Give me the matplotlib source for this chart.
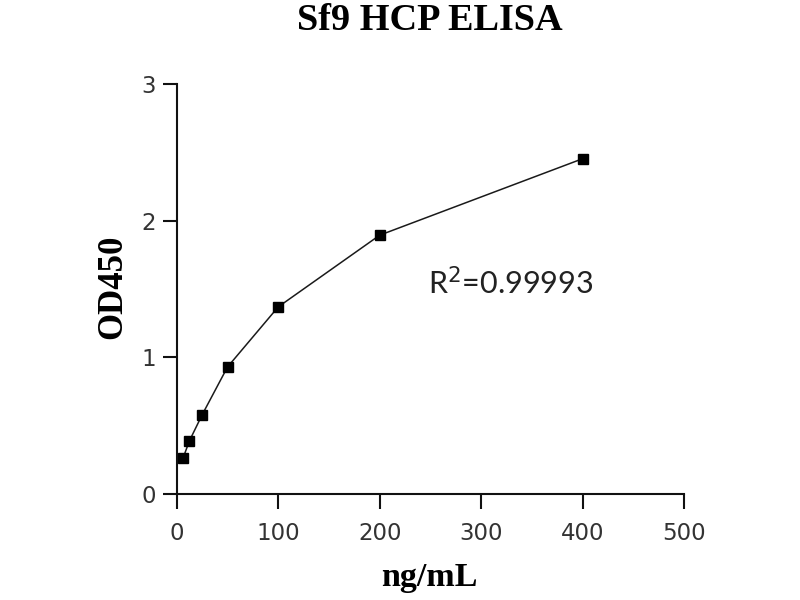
import matplotlib
matplotlib.use("Agg")
import matplotlib.pyplot as plt

conc = [6.25, 12.5, 25, 50, 100, 200, 400]
od450 = [0.265, 0.39, 0.58, 0.93, 1.37, 1.895, 2.455]
xticks = [0, 100, 200, 300, 400, 500]
yticks = [0, 1, 2, 3]
title = "Sf9 HCP ELISA"
xlabel = "ng/mL"
ylabel = "OD450"
r2_text = "R$^2$=0.99993"

fig = plt.figure(figsize=(8, 6), dpi=100)
ax = fig.add_axes([0.221, 0.1767, 0.634, 0.6828])
ax.plot(conc, od450, color="#1a1a1a", lw=1.1, marker="s", ms=7, mfc="black", mec="black")
ax.set_xlim(0, 500)
ax.set_ylim(0, 3)
ax.set_xticks(xticks)
ax.set_yticks(yticks)
for s in ["top", "right"]:
    ax.spines[s].set_visible(False)
for s in ["left", "bottom"]:
    ax.spines[s].set_linewidth(1.5)
    ax.spines[s].set_color("#111111")
ax.tick_params(axis="x", length=11, width=1.5, labelsize=16.5, pad=9, colors="#111111", labelcolor="#333333")
ax.tick_params(axis="y", length=10, width=1.5, labelsize=16.5, pad=5, colors="#111111", labelcolor="#333333")
for lab in ax.get_xticklabels() + ax.get_yticklabels():
    lab.set_family("DejaVu Sans")

serif = ["Liberation Serif", "DejaVu Serif"]
fig.text(0.537, 0.965, title, ha="center", va="center", fontsize=27.5, fontweight="bold", family=serif)
fig.text(0.537, 0.037, xlabel, ha="center", va="center", fontsize=24.5, fontweight="bold", family=serif)
fig.text(0.1415, 0.522, ylabel, ha="center", va="center", fontsize=25, fontweight="bold", family=serif, rotation=90)
ax.text(248, 1.545, r2_text, ha="left", va="center", fontsize=22, family=["Lato", "DejaVu Sans"], color="#222222")

fig.savefig("out.png", dpi=100)
